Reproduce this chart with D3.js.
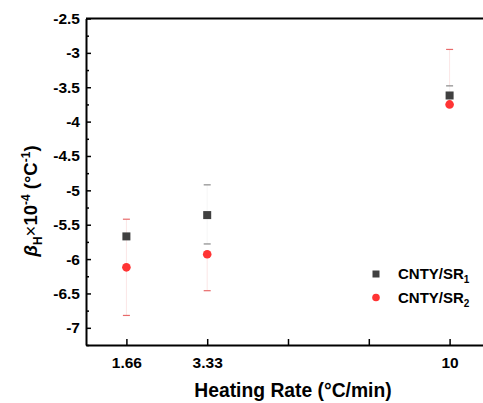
<!DOCTYPE html>
<html>
<head>
<meta charset="utf-8">
<script src="https://cdn.jsdelivr.net/npm/d3@7"></script>
<style>
  body { margin: 0; background: #fff; }
  svg { font-family: "Liberation Sans", Arial, sans-serif; font-weight: bold; }
</style>
</head>
<body>
<div id="chart"></div>
<script>
// x positions are equally spaced slots, only some carry a label
const xSlots = [1, 2, 3, 4, 5];
const xTickLabels = ['1.66', '3.33', '', '', '10'];
const yTicks = [-7, -6.5, -6, -5.5, -5, -4.5, -4, -3.5, -3, -2.5];

const seriesNames = ['CNTY/SR', 'CNTY/SR'];
const seriesSubs = ['1', '2'];

const sr1X = [1, 2, 5];
const sr1Y = [-5.67, -5.36, -3.62];
const sr1ErrUp = [null, 0.44, 0.14];
const sr1ErrDown = [null, 0.42, null];

const sr2X = [1, 2, 5];
const sr2Y = [-6.12, -5.93, -3.75];
const sr2ErrUp = [0.70, null, 0.80];
const sr2ErrDown = [0.70, 0.53, null];

const W = 483, H = 403;
const margin = { top: 18.5, left: 86, bottom: 58, right: -7 };
const font = '"Liberation Sans", Arial, sans-serif';

const svg = d3.select('#chart').append('svg')
  .attr('width', W)
  .attr('height', H);

const x = d3.scaleLinear()
  .domain([0.5, 5.5])
  .range([margin.left, W - margin.right]);

const y = d3.scaleLinear()
  .domain([-7.25, -2.5])
  .range([H - margin.bottom, margin.top]);

// minor y ticks
const minor = d3.range(-7.25, -2.5, 0.5);
svg.append('g')
  .attr('transform', `translate(${margin.left},0)`)
  .call(d3.axisLeft(y).tickValues(minor).tickSize(-3).tickFormat(''))
  .call(g => g.select('.domain').remove())
  .selectAll('line').attr('stroke-width', 1.5);

// y axis
svg.append('g')
  .attr('transform', `translate(${margin.left},0)`)
  .call(d3.axisLeft(y).tickValues(yTicks).tickSizeInner(-5).tickSizeOuter(0).tickPadding(6)
    .tickFormat(d => String(d)))
  .call(g => g.select('.domain').attr('stroke-width', 2))
  .call(g => g.selectAll('line').attr('stroke-width', 1.5))
  .call(g => g.selectAll('text')
    .attr('font-size', 15.5).attr('font-weight', 'bold').attr('fill', '#000')
    .attr('font-family', font));

// x axis
svg.append('g')
  .attr('transform', `translate(0,${H - margin.bottom})`)
  .call(d3.axisBottom(x).tickValues(xSlots).tickSizeInner(-6).tickSizeOuter(0).tickPadding(12)
    .tickFormat((d, i) => xTickLabels[i]))
  .call(g => g.select('.domain').attr('stroke-width', 2))
  .call(g => g.selectAll('line').attr('stroke-width', 1.5))
  .call(g => g.selectAll('text')
    .attr('font-size', 15.5).attr('font-weight', 'bold').attr('fill', '#000')
    .attr('font-family', font));

// top border
svg.append('line')
  .attr('x1', margin.left).attr('x2', W)
  .attr('y1', y(-2.5)).attr('y2', y(-2.5))
  .attr('stroke', '#000').attr('stroke-width', 2);

// error bars
function errorBars(xs, ys, up, down, lineColor, capColor) {
  const g = svg.append('g');
  xs.forEach((xv, i) => {
    const top = up[i] == null ? ys[i] : ys[i] + up[i];
    const bot = down[i] == null ? ys[i] : ys[i] - down[i];
    g.append('line')
      .attr('x1', x(xv)).attr('x2', x(xv))
      .attr('y1', y(top)).attr('y2', y(bot))
      .attr('stroke', lineColor).attr('stroke-width', 1);
    [up[i] == null ? null : top, down[i] == null ? null : bot].forEach(v => {
      if (v == null) return;
      g.append('line')
        .attr('x1', x(xv) - 3.5).attr('x2', x(xv) + 3.5)
        .attr('y1', y(v)).attr('y2', y(v))
        .attr('stroke', capColor).attr('stroke-width', 1.2);
    });
  });
}
errorBars(sr2X, sr2Y, sr2ErrUp, sr2ErrDown, '#fbe6e6', '#e86a6a');
errorBars(sr1X, sr1Y, sr1ErrUp, sr1ErrDown, '#f6f6f6', '#8a8a8a');

// markers
svg.append('g').selectAll('rect')
  .data(sr1X)
  .enter().append('rect')
  .attr('x', d => x(d) - 4)
  .attr('y', (d, i) => y(sr1Y[i]) - 4)
  .attr('width', 8).attr('height', 8)
  .attr('fill', '#404040');

svg.append('g').selectAll('circle')
  .data(sr2X)
  .enter().append('circle')
  .attr('cx', d => x(d))
  .attr('cy', (d, i) => y(sr2Y[i]))
  .attr('r', 4.3)
  .attr('fill', '#ff3434');

// legend
const leg = svg.append('g').attr('transform', 'translate(376,274)');
leg.append('rect').attr('x', -3.5).attr('y', -3.5).attr('width', 7).attr('height', 7).attr('fill', '#404040');
leg.append('circle').attr('cx', 0).attr('cy', 23.5).attr('r', 3.8).attr('fill', '#ff3434');
seriesNames.forEach((name, i) => {
  const t = leg.append('text')
    .attr('x', 22).attr('y', 5 + i * 23.5)
    .attr('font-size', 15).attr('fill', '#000');
  t.append('tspan').text(name);
  t.append('tspan').attr('font-size', 10).attr('dy', 4).text(seriesSubs[i]);
});

// x title
svg.append('text')
  .attr('x', 293).attr('y', 397)
  .attr('text-anchor', 'middle')
  .attr('font-size', 19.3)
  .text('Heating Rate (°C/min)');

// y title
const yt = svg.append('text')
  .attr('transform', 'translate(37,201) rotate(-90)')
  .attr('text-anchor', 'middle')
  .attr('font-size', 18.5);
yt.append('tspan').attr('font-style', 'italic').text('β');
yt.append('tspan').attr('font-size', 12).attr('dy', 5).text('H');
yt.append('tspan').attr('dy', -5).attr('font-weight', 'normal').text('×');
yt.append('tspan').text('10');
yt.append('tspan').attr('font-size', 12).attr('dy', -7).text('-4');
yt.append('tspan').attr('dy', 7).text(' (°C');
yt.append('tspan').attr('font-size', 12).attr('dy', -7).text('-1');
yt.append('tspan').attr('dy', 7).text(')');
</script>
</body>
</html>
